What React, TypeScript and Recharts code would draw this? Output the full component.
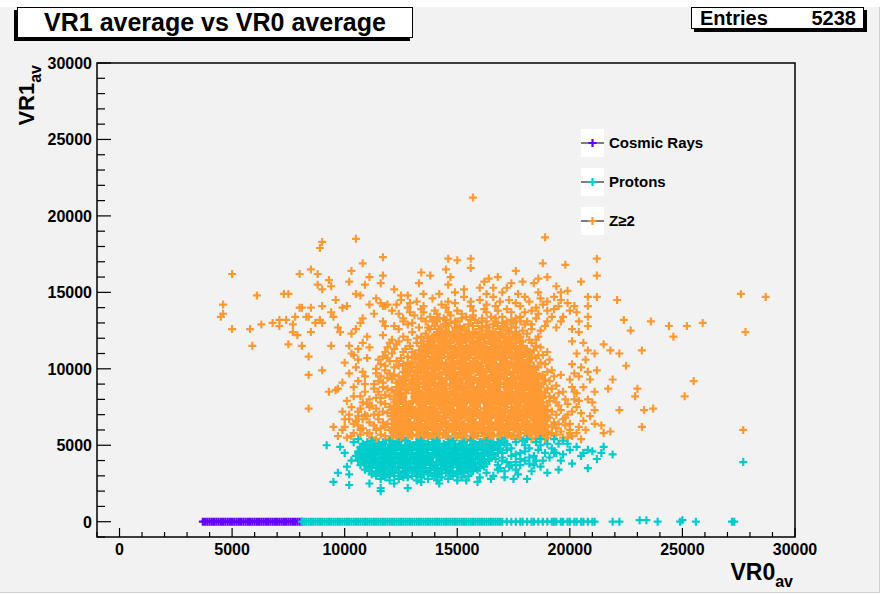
import React from 'react';
import { ScatterChart, Scatter, XAxis, YAxis, ReferenceArea } from 'recharts';

type P = [number, number];

// VR0 average, VR1 average per event, in units of 100 counts

const cosmicBand: P[] = [
  [37,0],[38,0],[39,0],[40,0],[41,0],[42,0],[43,0],[44,0],[45,0],[46,0],[47,0],[48,0],[49,0],[50,0],[51,0],[52,0],
  [53,0],[54,0],[55,0],[56,0],[57,0],[58,0],[59,0],[60,0],[61,0],[62,0],[63,0],[64,0],[65,0],[66,0],[67,0],[68,0],
  [69,0],[70,0],[71,0],[72,0],[73,0],[74,0],[75,0],[76,0],[77,0],[78,0],[79,0],[80,0],[81,0],
];

const protonBand: P[] = [
  [81,0],[82,0],[83,0],[84,0],[85,0],[86,0],[87,0],[88,0],[89,0],[90,0],[91,0],[92,0],[93,0],[94,0],[95,0],[96,0],
  [97,0],[98,0],[99,0],[100,0],[101,0],[102,0],[103,0],[104,0],[105,0],[106,0],[107,0],[108,0],[109,0],[110,0],[111,0],
  [112,0],[113,0],[114,0],[115,0],[116,0],[117,0],[118,0],[119,0],[120,0],[121,0],[122,0],[123,0],[124,0],[125,0],
  [126,0],[127,0],[128,0],[129,0],[130,0],[131,0],[132,0],[133,0],[134,0],[135,0],[136,0],[137,0],[138,0],[139,0],
  [140,0],[141,0],[142,0],[143,0],[144,0],[145,0],[146,0],[147,0],[148,0],[149,0],[150,0],[151,0],[152,0],[153,0],
  [154,0],[155,0],[156,0],[157,0],[158,0],[159,0],[160,0],[161,0],[162,0],[163,0],[164,0],[165,0],[166,0],[167,0],
  [168,0],[169,0],[170,0],[172,0],[174,0],[176,0],[178,0],[179,0],[181,0],[183,0],[184,0],[186,0],[188,0],[190,0],
  [192,0],[193,0],[194,0],[196,0],[197,0],[199,0],[200,0],[202,0],[203,0],[205,0],[206,0],[208,0],[210,0],[211,0],
  [219,0],[222,0],[231,1],[234,1],[239,0],[249,0],[250,1],[256,0],[272,0],[273,0],
];

const protonCloud: P[] = [
  [110,52],[112,53],[115,51],[117,52],[120,53],[122,51],[124,52],[127,53],[129,51],[132,52],[134,53],[136,51],[139,52],
  [141,53],[144,51],[146,52],[148,53],[151,51],[153,52],[156,53],[158,51],[160,52],[163,53],[165,51],[168,52],[170,53],[172,51],
  [107,49],[109,50],[112,48],[114,49],[116,50],[119,48],[121,49],[124,50],[126,48],[128,49],[131,50],[133,48],[136,49],
  [138,50],[140,48],[143,49],[145,50],[148,48],[150,49],[152,50],[155,48],[157,49],[160,50],[162,48],[164,49],[167,50],[169,48],
  [106,46],[108,47],[111,45],[113,46],[115,47],[118,45],[120,46],[123,47],[125,45],[127,46],[130,47],[132,45],[135,46],
  [137,47],[139,45],[142,46],[144,47],[147,45],[149,46],[151,47],[154,45],[156,46],[159,47],[161,45],[163,46],[166,47],[168,45],
  [105,43],[107,44],[110,42],[112,43],[114,44],[117,42],[119,43],[122,44],[124,42],[126,43],[129,44],[131,42],[134,43],
  [136,44],[138,42],[141,43],[143,44],[146,42],[148,43],[150,44],[153,42],[155,43],[158,44],[160,42],[162,43],[165,44],
  [106,40],[108,41],[111,39],[113,40],[115,41],[118,39],[120,40],[123,41],[125,39],[127,40],[130,41],[132,39],[135,40],
  [137,41],[139,39],[142,40],[144,41],[147,39],[149,40],[151,41],[154,39],[156,40],[159,41],[161,39],[164,40],
  [107,37],[109,38],[112,36],[114,37],[116,38],[119,36],[121,37],[124,38],[126,36],[128,37],[131,38],[133,36],[136,37],
  [138,38],[140,36],[143,37],[145,38],[148,36],[150,37],[152,38],[155,36],[157,37],[160,38],[162,36],
  [109,34],[111,35],[114,33],[116,34],[118,35],[121,33],[123,34],[126,35],[128,33],[130,34],[133,35],[135,33],[138,34],
  [140,35],[142,33],[145,34],[147,35],[150,33],[152,34],[154,35],[157,33],[159,34],
  [112,31],[115,32],[117,30],[120,31],[122,32],[125,30],[127,31],[130,32],[132,30],[135,31],[137,32],[140,30],[142,31],
  [145,32],[147,30],[150,31],[153,32],[155,30],
  [116,28],[120,27],[124,28],[128,29],[132,27],[137,28],[141,27],[146,28],[150,27],
  [108,51],[111,50],[113,51],[116,50],[118,51],[121,50],[123,51],[125,50],[128,51],[130,50],[133,51],[135,50],[137,51],
  [140,50],[142,51],[145,50],[147,51],[149,50],[152,51],[154,50],[157,51],[159,50],[161,51],[164,50],[166,51],[169,50],[171,51],
  [107,48],[110,47],[112,48],[115,47],[117,48],[120,47],[122,48],[125,47],[127,48],[129,47],[132,48],[134,47],[137,48],
  [139,47],[141,48],[144,47],[146,48],[149,47],[151,48],[153,47],[156,48],[158,47],[161,48],[163,47],[165,48],[168,47],
  [106,45],[109,44],[111,45],[113,44],[116,45],[118,44],[121,45],[123,44],[125,45],[128,44],[130,45],[133,44],[135,45],
  [137,44],[140,45],[142,44],[145,45],[147,44],[149,45],[152,44],[154,45],[157,44],[159,45],[161,44],[164,45],[166,44],
  [107,42],[109,41],[112,42],[114,41],[117,42],[119,41],[121,42],[124,41],[126,42],[129,41],[131,42],[133,41],[136,42],
  [138,41],[141,42],[143,41],[145,42],[148,41],[150,42],[153,41],[155,42],[157,41],[160,42],[162,41],[165,42],
  [108,39],[110,38],[113,39],[115,38],[117,39],[120,38],[122,39],[125,38],[127,39],[129,38],[132,39],[134,38],[137,39],
  [139,38],[141,39],[144,38],[146,39],[149,38],[151,39],[153,38],[156,39],[158,38],[161,39],[163,38],
  [110,36],[112,35],[115,36],[117,35],[120,36],[122,35],[124,36],[127,35],[129,36],[132,35],[134,36],[136,35],[139,36],
  [141,35],[144,36],[146,35],[148,36],[151,35],[153,36],[156,35],[158,36],[160,35],
  [111,33],[114,32],[116,33],[119,32],[121,33],[124,32],[126,33],[128,32],[131,33],[133,32],[136,33],[138,32],[141,33],
  [143,32],[146,33],[148,32],[151,33],[153,32],[156,33],
  [114,30],[118,29],[122,30],[126,29],[130,30],[134,29],[139,30],[143,29],[148,30],[152,29],
];

const protonFringe: P[] = [
  [172,47],[174,43],[176,39],[178,45],[180,50],[182,42],[184,37],[186,47],[188,40],[190,51],[193,45],[195,34],[199,51],
  [200,47],[208,47],[214,45],[219,44],[194,45],[208,35],[182,38],[181,28],[177,31],[171,33],[168,37],[166,30],[165,28],
  [159,26],[154,27],[142,25],[134,26],[128,22],[122,25],[116,22],[116,20],[111,25],[102,24],[95,26],[97,32],[102,31],
  [101,36],[103,40],[100,45],[98,49],[104,52],[92,50],[106,54],[187,54],[193,54],[170,40],[168,34],[173,36],[179,53],
  [185,52],[205,43],[212,41],[201,38],[277,39],[163,32],[160,29],
  [170,45],[172,50],[174,48],[176,44],[178,41],[180,46],[182,48],[184,43],[185,40],[187,50],[189,45],[191,42],[192,48],
  [195,51],[197,44],[170,42],[172,39],[174,37],[176,34],[178,37],[180,40],[167,41],[169,35],[171,29],[175,28],[183,33],
  [187,36],[190,32],[196,40],[203,49],[206,45],[210,46],[215,49],[171,53],[176,52],[181,54],[197,53],
];

const zCore: P[] = [
  [128,55],[130,56],[133,54],[135,55],[138,56],[140,54],[142,55],[145,56],[147,54],[150,55],[152,56],[154,54],[157,55],
  [159,56],[162,54],[164,55],[166,56],[169,54],[171,55],[174,56],[176,54],[178,55],[181,56],[183,54],
  [127,59],[129,58],[132,60],[134,59],[136,58],[139,60],[141,59],[144,58],[146,60],[148,59],[151,58],[153,60],[156,59],
  [158,58],[160,60],[163,59],[165,58],[168,60],[170,59],[172,58],[175,60],[177,59],[180,58],[182,60],[184,59],
  [128,62],[131,63],[133,61],[135,62],[138,63],[140,61],[143,62],[145,63],[147,61],[150,62],[152,63],[155,61],[157,62],
  [159,63],[162,61],[164,62],[167,63],[169,61],[171,62],[174,63],[176,61],[179,62],[181,63],[184,61],
  [127,66],[129,65],[132,64],[134,66],[137,65],[139,64],[141,66],[144,65],[146,64],[149,66],[151,65],[153,64],[156,66],
  [158,65],[161,64],[163,66],[165,65],[168,64],[170,66],[173,65],[175,64],[177,66],[180,65],[182,64],[185,66],
  [128,69],[130,70],[133,68],[135,69],[138,70],[140,68],[142,69],[145,70],[147,68],[150,69],[152,70],[154,68],[157,69],
  [159,70],[162,68],[164,69],[166,70],[169,68],[171,69],[174,70],[176,68],[178,69],[181,70],[183,68],
  [127,72],[129,73],[132,71],[134,72],[136,73],[139,71],[141,72],[144,73],[146,71],[148,72],[151,73],[153,71],[156,72],
  [158,73],[160,71],[163,72],[165,73],[168,71],[170,72],[172,73],[175,71],[177,72],[180,73],[182,71],[184,72],
  [128,76],[130,75],[133,74],[135,76],[138,75],[140,74],[142,76],[145,75],[147,74],[150,76],[152,75],[154,74],[157,76],
  [159,75],[162,74],[164,76],[166,75],[169,74],[171,76],[174,75],[176,74],[178,76],[181,75],[183,74],
  [130,79],[132,80],[134,78],[137,79],[139,80],[142,78],[144,79],[146,80],[149,78],[151,79],[154,80],[156,78],[158,79],
  [161,80],[163,78],[166,79],[168,80],[170,78],[173,79],[175,80],[178,78],[180,79],[182,80],
  [131,82],[133,83],[136,81],[138,82],[141,83],[143,81],[145,82],[148,83],[150,81],[153,82],[155,83],[157,81],[160,82],
  [162,83],[165,81],[167,82],[169,83],[172,81],[174,82],[177,83],[179,81],[181,82],[183,83],
  [130,86],[132,85],[135,84],[137,86],[140,85],[142,84],[144,86],[147,85],[149,84],[152,86],[154,85],[156,84],[159,86],
  [161,85],[164,84],[166,86],[168,85],[171,84],[173,86],[176,85],[178,84],[180,86],[183,85],
  [131,89],[133,90],[136,88],[138,89],[140,90],[143,88],[145,89],[148,90],[150,88],[152,89],[155,90],[157,88],[160,89],
  [162,90],[164,88],[167,89],[169,90],[172,88],[174,89],[176,90],[179,88],[181,89],
  [130,92],[132,93],[135,91],[137,92],[139,93],[142,91],[144,92],[147,93],[149,91],[151,92],[154,93],[156,91],[159,92],
  [161,93],[163,91],[166,92],[168,93],[171,91],[173,92],[175,93],[178,91],[180,92],[182,93],
  [131,96],[134,95],[136,94],[138,96],[141,95],[143,94],[146,96],[148,95],[150,94],[153,96],[155,95],[158,94],[160,96],
  [162,95],[165,94],[167,96],[170,95],[172,94],[174,96],[177,95],[179,94],[181,96],
  [133,99],[135,100],[137,98],[140,99],[142,100],[145,98],[147,99],[149,100],[152,98],[154,99],[157,100],[159,98],
  [161,99],[164,100],[166,98],[169,99],[171,100],[173,98],[176,99],[178,100],[180,98],
  [134,102],[136,103],[139,101],[141,102],[143,103],[146,101],[148,102],[151,103],[153,101],[155,102],[158,103],
  [160,101],[163,102],[165,103],[167,101],[170,102],[172,103],[175,101],[177,102],[179,103],
  [133,106],[135,105],[138,104],[140,106],[142,105],[145,104],[147,106],[150,105],[152,104],[154,106],[157,105],
  [159,104],[162,106],[164,105],[166,104],[169,106],[171,105],[174,104],[176,106],[178,105],[181,104],
  [134,109],[137,110],[139,108],[141,109],[144,110],[146,108],[149,109],[151,110],[153,108],[156,109],[158,110],
  [161,108],[163,109],[165,110],[168,108],[170,109],[173,110],[175,108],[177,109],[180,110],
  [136,112],[138,113],[141,111],[143,112],[145,113],[148,111],[150,112],[153,113],[155,111],[157,112],[160,113],
  [162,111],[165,112],[167,113],[169,111],[172,112],[174,113],[177,111],
  [137,116],[139,115],[142,114],[144,116],[147,115],[149,114],[151,116],[154,115],[156,114],[159,116],[161,115],
  [163,114],[166,116],[168,115],[171,114],[173,116],[176,115],[178,114],
  [138,119],[141,120],[143,118],[145,119],[148,120],[150,118],[153,119],[155,120],[157,118],[160,119],[162,120],
  [165,118],[167,119],[169,120],[172,118],[174,119],[176,120],
  [140,122],[143,123],[145,121],[148,122],[150,123],[153,121],[155,122],[158,123],[160,121],[163,122],[165,123],
  [168,121],[170,122],[173,123],[175,121],
  [142,126],[145,125],[148,124],[151,126],[154,125],[157,124],[160,126],[163,125],[166,124],[169,126],[172,125],
  [144,129],[147,130],[151,128],[155,129],[159,130],[163,128],[166,129],[170,130],
];

const zCoreFill: P[] = [
  [129,57],[132,57],[134,58],[137,56],[139,57],[141,58],[144,57],[146,56],[149,57],[151,58],[153,57],[156,56],[158,57],
  [161,58],[163,57],[165,56],[168,57],[170,58],[173,57],[175,56],[177,57],[180,58],[182,57],
  [128,61],[130,60],[133,61],[135,60],[137,61],[140,60],[142,61],[145,60],[147,61],[149,60],[152,61],[154,60],[157,61],
  [159,60],[161,61],[164,60],[166,61],[169,60],[171,61],[173,60],[176,61],[178,60],[181,61],[183,60],
  [129,64],[131,63],[134,64],[136,63],[139,64],[141,63],[143,64],[146,63],[148,64],[150,63],[153,64],[155,63],[158,64],
  [160,63],[162,64],[165,63],[167,64],[170,63],[172,64],[174,63],[177,64],[179,63],[182,64],[184,63],
  [128,67],[131,68],[133,67],[136,67],[138,68],[140,67],[143,67],[145,68],[148,67],[150,67],[152,68],[155,67],[157,67],
  [160,68],[162,67],[164,67],[167,68],[169,67],[172,67],[174,68],[176,67],[179,67],[181,68],[184,67],
  [129,71],[131,70],[134,71],[137,70],[139,71],[141,70],[144,71],[146,70],[149,71],[151,70],[153,71],[156,70],[158,71],
  [161,70],[163,71],[165,70],[168,71],[170,70],[173,71],[175,70],[177,71],[180,70],[182,71],[185,70],
  [128,74],[131,73],[133,74],[135,73],[138,74],[140,73],[143,74],[145,73],[147,74],[150,73],[152,74],[155,73],[157,74],
  [159,73],[162,74],[164,73],[167,74],[169,73],[171,74],[174,73],[176,74],[179,73],[181,74],[183,73],
  [129,77],[132,78],[134,77],[136,78],[139,77],[141,78],[144,77],[146,78],[148,77],[151,78],[153,77],[156,78],[158,77],
  [160,78],[163,77],[165,78],[168,77],[170,78],[172,77],[175,78],[177,77],[180,78],[182,77],[184,78],
  [131,81],[133,80],[135,81],[138,80],[140,81],[143,80],[145,81],[147,80],[150,81],[152,80],[155,81],[157,80],[159,81],
  [162,80],[164,81],[167,80],[169,81],[171,80],[174,81],[176,80],[179,81],[181,80],[183,81],
  [130,84],[132,83],[134,84],[137,83],[139,84],[142,83],[144,84],[146,83],[149,84],[151,83],[154,84],[156,83],[158,84],
  [161,83],[163,84],[166,83],[168,84],[170,83],[173,84],[175,83],[178,84],[180,83],[182,84],
  [131,87],[133,88],[136,87],[138,87],[141,88],[143,87],[145,87],[148,88],[150,87],[153,87],[155,88],[157,87],[160,87],
  [162,88],[165,87],[167,87],[169,88],[172,87],[174,87],[177,88],[179,87],[182,87],
  [130,91],[132,90],[135,91],[137,90],[139,91],[142,90],[144,91],[147,90],[149,91],[151,90],[154,91],[156,90],[159,91],
  [161,90],[163,91],[166,90],[168,91],[171,90],[173,91],[175,90],[178,91],[180,90],[182,91],
  [131,94],[133,93],[136,94],[138,93],[140,94],[143,93],[145,94],[148,93],[150,94],[152,93],[155,94],[157,93],[160,94],
  [162,93],[164,94],[167,93],[169,94],[172,93],[174,94],[176,93],[179,94],[181,93],
  [132,97],[135,98],[137,97],[139,98],[142,97],[144,98],[147,97],[149,98],[151,97],[154,98],[156,97],[159,98],[161,97],
  [163,98],[166,97],[168,98],[171,97],[173,98],[175,97],[178,98],[180,97],[182,98],
  [132,101],[134,100],[136,101],[139,100],[141,101],[144,100],[146,101],[148,100],[151,101],[153,100],[156,101],
  [158,100],[160,101],[163,100],[165,101],[168,100],[170,101],[172,100],[175,101],[177,100],[179,101],[181,100],
  [133,104],[135,103],[137,104],[140,103],[142,104],[145,103],[147,104],[149,103],[152,104],[154,103],[157,104],
  [159,103],[161,104],[164,103],[166,104],[169,103],[171,104],[173,103],[176,104],[178,103],[180,104],
  [134,107],[136,108],[139,107],[141,108],[143,107],[146,108],[148,107],[151,108],[153,107],[155,108],[158,107],
  [160,108],[163,107],[165,108],[167,107],[170,108],[172,107],[174,108],[177,107],[179,108],
  [135,111],[137,110],[140,111],[142,110],[144,111],[147,110],[149,111],[152,110],[154,111],[156,110],[159,111],
  [161,110],[164,111],[166,110],[168,111],[171,110],[173,111],[176,110],[178,111],
  [136,114],[139,113],[141,114],[144,113],[146,114],[148,113],[151,114],[153,113],[155,114],[158,113],[160,114],
  [163,113],[165,114],[167,113],[170,114],[172,113],[175,114],[177,113],
  [138,117],[140,118],[143,117],[145,118],[147,117],[150,118],[152,117],[154,118],[157,117],[159,118],[162,117],
  [164,118],[166,117],[169,118],[171,117],[173,118],[176,117],
  [139,121],[142,121],[144,120],[147,121],[149,121],[151,120],[154,121],[156,121],[159,120],[161,121],[164,121],
  [166,120],[168,121],[171,121],[173,120],[176,122],
  [141,124],[144,123],[146,124],[149,124],[152,123],[155,124],[158,124],[161,123],[164,124],[167,124],[170,123],[173,124],
  [143,127],[146,128],[149,127],[153,127],[157,128],[161,127],[164,127],[168,128],[171,127],
];

const zFlank: P[] = [
  [121,55],[123,56],[125,54],[122,58],[124,59],[126,57],[121,61],[123,62],[125,60],[122,64],[124,65],[126,63],[121,67],
  [123,68],[125,66],[122,70],[124,71],[126,69],[121,73],[123,74],[125,72],[122,76],[124,77],[126,75],[123,79],[125,80],
  [127,78],[122,82],[124,83],[126,81],[123,85],[125,86],[127,84],[124,88],[126,89],[128,87],[125,91],[127,92],[129,90],
  [126,94],[128,95],[130,93],[127,97],[129,98],[131,96],[128,100],[130,101],[132,99],[129,103],[131,104],[130,107],
  [132,108],[131,110],[133,112],[134,115],[135,118],
  [185,55],[187,56],[189,54],[186,58],[188,59],[190,57],[185,61],[187,62],[189,60],[186,64],[188,65],[190,63],[185,67],
  [187,68],[189,66],[186,70],[188,71],[190,69],[185,73],[187,74],[189,72],[184,76],[186,77],[188,75],[184,79],[186,80],
  [188,78],[184,82],[186,83],[188,81],[183,86],[185,87],[187,85],[183,89],[185,90],[187,88],[182,92],[184,93],[186,91],
  [182,95],[184,96],[186,94],[181,98],[183,99],[185,97],[180,101],[182,102],[184,100],[179,104],[181,105],[183,107],
  [178,108],[180,110],[182,111],[177,113],[179,114],[176,117],[178,118],
  [136,123],[138,126],[140,128],[137,120],[178,121],[176,124],[179,118],[174,127],[175,130],[141,131],[145,132],
  [150,131],[156,132],[161,131],[167,131],[172,129],
];

const zRing: P[] = [
  [112,55],[116,57],[120,54],[124,56],[114,60],[118,62],[122,59],[125,61],[111,65],[115,67],[119,64],[123,66],[113,70],
  [117,72],[121,69],[125,71],[112,76],[116,78],[120,75],[124,77],[114,81],[118,83],[122,80],[126,82],[113,87],[117,88],
  [121,86],[125,89],[115,92],[119,94],[123,91],[127,93],[114,97],[118,99],[122,96],[126,98],[116,103],[120,105],[124,102],
  [128,104],[117,108],[121,110],[125,107],[130,111],[119,114],[123,116],[127,113],[132,117],[121,119],[126,121],[130,124],
  [134,121],[137,127],[140,132],
  [114,54],[118,56],[122,57],[126,58],[111,58],[116,61],[120,60],[124,63],[113,63],[117,65],[121,67],[125,65],[110,69],
  [115,70],[119,71],[123,73],[126,75],[114,74],[118,77],[122,78],[126,79],[111,80],[116,81],[120,82],[124,84],[115,85],
  [119,87],[123,88],[127,86],[113,90],[117,91],[121,93],[125,92],[116,95],[120,97],[124,95],[127,100],[114,100],[118,102],
  [122,101],[126,103],[115,106],[119,107],[123,105],[128,108],[118,111],[122,113],[126,111],[129,115],[120,117],[124,118],
  [128,119],[132,120],[107,60],[108,67],[106,72],[109,85],[108,98],[110,107],[111,114],
  [186,56],[190,55],[194,57],[188,60],[192,62],[196,59],[187,65],[191,68],[195,64],[186,71],[190,73],[194,70],[187,77],
  [191,79],[195,76],[185,82],[189,84],[193,81],[184,88],[188,90],[192,87],[183,93],[187,95],[191,92],[183,99],[186,101],
  [190,98],[182,104],[185,107],[189,103],[181,110],[184,112],[188,109],[179,115],[183,117],[187,114],[177,121],[181,123],
  [185,119],[176,127],[180,129],[198,68],[197,85],[199,77],[196,96],
  [185,54],[188,57],[192,58],[197,55],[186,61],[190,59],[194,61],[198,63],[185,68],[189,66],[193,65],[197,67],[188,70],
  [192,72],[196,73],[186,75],[190,76],[194,78],[198,80],[187,80],[191,82],[195,84],[186,86],[190,87],[194,89],[185,91],
  [189,93],[193,95],[184,97],[188,96],[192,99],[184,102],[187,104],[191,106],[183,108],[186,109],[190,111],[181,113],
  [185,115],[182,119],[186,121],[179,125],[183,126],[178,131],[201,72],[201,88],[200,60],[202,80],
  [124,126],[128,129],[133,127],[136,131],[126,133],[131,135],[138,134],[142,133],[147,135],[152,133],[157,135],[161,133],
  [165,134],[170,134],[174,132],[178,134],[183,129],[187,125],[190,131],[194,127],[186,136],[121,138],[128,140],[134,139],
  [140,138],[145,140],[150,138],[156,141],[162,139],[167,141],[172,139],[178,141],[183,138],[188,142],[193,139],[197,134],
  [125,145],[132,144],[139,146],[146,144],[153,147],[160,145],[166,147],[173,145],[180,147],[187,146],[193,147],[199,143],
  [122,128],[126,131],[130,130],[134,133],[139,131],[144,133],[149,131],[154,134],[158,132],[163,131],[167,133],[172,131],
  [176,133],[181,131],[185,133],[189,128],[192,134],[196,131],[124,136],[129,137],[135,137],[141,136],[146,137],[152,136],
  [157,138],[163,137],[168,138],[174,137],[180,137],[185,140],[190,138],[195,141],[200,138],[118,141],[123,142],[129,143],
  [135,141],[143,142],[149,143],[156,144],[163,142],[169,144],[176,143],[182,144],[190,144],[196,145],[202,141],[128,148],
  [135,149],[142,149],[149,150],[163,149],[170,150],[177,149],[186,150],[196,150],[117,131],[114,146],[204,131],[201,126],
];

const zSparse: P[] = [
  [157,212],[189,186],[105,185],[90,183],[89,179],[117,173],[50,162],[108,169],[146,172],[150,171],[156,172],[156,166],
  [188,169],[198,168],[212,172],[80,162],[85,165],[88,162],[93,158],[103,164],[111,160],[117,161],[102,157],[109,155],
  [116,156],[88,155],[90,152],[94,154],[61,148],[73,149],[75,149],[46,142],[46,136],[45,134],[50,126],[58,126],[59,115],
  [63,129],[68,130],[71,132],[71,128],[74,132],[77,129],[78,134],[77,124],[79,122],[80,140],[81,140],[85,140],[90,141],
  [83,134],[84,134],[85,124],[87,130],[89,132],[90,130],[94,137],[95,134],[96,145],[97,127],[98,124],[99,140],[101,141],
  [94,115],[84,108],[81,115],[75,116],[84,96],[90,99],[93,85],[96,86],[97,87],[99,91],[84,74],[100,67],[102,115],
  [103,110],[104,109],[106,106],[104,82],[107,82],[106,92],[109,95],[109,90],[111,75],[103,123],[105,126],[107,130],
  [108,133],[105,149],[107,148],[111,142],[113,136],[116,143],[117,141],[119,142],[118,128],[117,122],[122,152],[125,148],
  [133,156],[134,163],[138,161],[145,165],[147,160],[146,155],[153,152],[160,153],[162,157],[164,159],[168,160],[166,153],
  [172,153],[176,164],[174,156],[179,157],[184,156],[186,159],[190,160],[194,154],[199,151],[205,157],[212,161],[208,147],
  [212,147],[208,141],[203,137],[208,134],[208,128],[208,112],[211,110],[208,98],[212,99],[209,93],[211,85],[208,80],
  [211,73],[203,84],[205,71],[200,64],[203,58],[205,101],[202,97],[201,118],[204,124],[215,116],[218,112],[222,110],
  [224,132],[227,125],[225,102],[230,87],[229,82],[219,93],[217,87],[222,73],[218,59],[214,63],[232,62],[233,73],
  [236,131],[244,128],[246,121],[252,128],[259,130],[255,92],[251,82],[237,74],[221,145],[232,112],[276,149],[287,147],
  [278,124],[277,60],[101,55],[104,58],[99,60],[106,63],[97,56],[95,62],[102,70],[107,74],[110,58],[215,58],[199,55],
  [101,79],[104,88],[102,97],[105,101],[100,104],[108,117],[110,121],[106,113],[109,70],[105,66],[108,78],
  [103,56],[107,57],[100,62],[104,64],[108,61],[102,67],[106,69],[103,75],[110,77],[99,72],
  [201,56],[204,62],[206,66],[203,75],[206,88],[204,95],[207,106],[203,110],[206,117],[201,103],[210,78],[211,64],
  [200,58],[199,70],[202,85],[200,93],[204,79],[207,60],[205,54],[209,69],
];

const axisTicks = Array.from({ length: 32 }, (_, i) => -1000 + i * 1000);
const DOMAIN: [number, number] = [-1000, 30000];

const FONT = "'Liberation Sans', Arial, Helvetica, sans-serif";
const BG = '#f2f2f2';
const ARM = 4;
const STROKE = 2.2;

const toPoints = (arr: P[]) => arr.map(([x, y]) => ({ x: x * 100, y: y * 100 }));

const series = [
  { name: 'Cosmic Rays', color: '#6600ff', data: toPoints(cosmicBand) },
  { name: 'Protons', color: '#00cccc', data: toPoints([...protonBand, ...protonCloud, ...protonFringe]) },
  { name: 'Z≥2', color: '#ff9933', data: toPoints([...zCore, ...zCoreFill, ...zFlank, ...zRing, ...zSparse]) },
];
// protons are painted last so their cloud sits over the lower edge of Z>=2
const drawOrder = [series[0], series[2], series[1]];

const crossShape = (color: string) => (p: any) =>
  p.cx == null ? <g /> : (
    <path
      d={`M${p.cx - ARM} ${p.cy}h${2 * ARM}M${p.cx} ${p.cy - ARM}v${2 * ARM}`}
      stroke={color}
      strokeWidth={STROKE}
      fill="none"
    />
  );

function XTick(props: any) {
  const { x, y, payload } = props;
  const v = payload.value;
  const major = v >= 0 && v % 5000 === 0;
  return (
    <g>
      <line x1={x} x2={x} y1={y} y2={y - (major ? 9 : 5)} stroke="#000" strokeWidth={1.2} />
      {major && (
        <text x={x} y={y + 18} textAnchor="middle" fontFamily={FONT} fontWeight="bold" fontSize={16} fill="#000">
          {v}
        </text>
      )}
    </g>
  );
}

function YTick(props: any) {
  const { x, y, payload } = props;
  const v = payload.value;
  const major = v >= 0 && v % 5000 === 0;
  return (
    <g>
      <line x1={x} x2={x + (major ? 14 : 8)} y1={y} y2={y} stroke="#000" strokeWidth={1.2} />
      {major && (
        <text x={x - 5} y={y + 6} textAnchor="end" fontFamily={FONT} fontWeight="bold" fontSize={16} fill="#000">
          {v}
        </text>
      )}
    </g>
  );
}

const legendRows = [143, 182, 221];

export default function App() {
  return (
    <div style={{ position: 'relative', width: 884, height: 595, background: '#fff', overflow: 'hidden' }}>
      <style>{'body{margin:0}'}</style>
      <div
        style={{
          position: 'absolute', left: 0, top: 7, width: 879, height: 585, background: BG,
          borderRight: '1px solid #cfcfcf', borderBottom: '1px solid #cfcfcf',
        }}
      />
      <div style={{ position: 'absolute', left: 0, top: 0 }}>
        <ScatterChart width={884} height={595} margin={{ top: 63, right: 89, bottom: 28, left: 37 }}>
          <XAxis
            type="number"
            dataKey="x"
            domain={DOMAIN}
            ticks={axisTicks}
            interval={0}
            allowDataOverflow
            axisLine={false}
            tickLine={false}
            tickSize={0}
            tickMargin={0}
            height={30}
            tick={<XTick />}
          />
          <YAxis
            type="number"
            dataKey="y"
            domain={DOMAIN}
            ticks={axisTicks}
            interval={0}
            allowDataOverflow
            axisLine={false}
            tickLine={false}
            tickSize={0}
            tickMargin={0}
            width={60}
            tick={<YTick />}
          />
          {drawOrder.map((s) => (
            <Scatter
              key={s.name}
              name={s.name}
              data={s.data}
              fill={s.color}
              shape={crossShape(s.color)}
              isAnimationActive={false}
            />
          ))}
          <ReferenceArea
            x1={-1000}
            x2={30000}
            y1={-1000}
            y2={30000}
            fill="none"
            stroke="#000"
            strokeWidth={1.5}
            ifOverflow="visible"
          />
        </ScatterChart>
      </div>

      <svg width={884} height={595} style={{ position: 'absolute', left: 0, top: 0, pointerEvents: 'none' }}>
        {/* axis titles */}
        <text x={793} y={580} textAnchor="end" fontFamily={FONT} fontWeight="bold" fontSize={23} fill="#000">
          VR0<tspan fontSize={16} dy={7}>av</tspan>
        </text>
        <text
          transform="translate(34,65) rotate(-90)"
          textAnchor="end"
          fontFamily={FONT}
          fontWeight="bold"
          fontSize={22}
          fill="#000"
        >
          VR1<tspan fontSize={16} dy={7}>av</tspan>
        </text>

        {/* legend */}
        {series.map((s, i) => {
          const cy = legendRows[i];
          return (
            <g key={s.name}>
              <rect x={581} y={cy - 14} width={23} height={28} fill="#fff" />
              <line x1={581} x2={604} y1={cy} y2={cy} stroke="#555" strokeWidth={1.5} />
              <path d={`M${588.5} ${cy}h8M${592.5} ${cy - 4}v8`} stroke={s.color} strokeWidth={STROKE} fill="none" />
              <text x={609} y={cy + 5} fontFamily={FONT} fontWeight="bold" fontSize={15} fill="#000">
                {s.name}
              </text>
            </g>
          );
        })}
      </svg>

      {/* title pave, shadow to the bottom-left */}
      <div style={{ position: 'absolute', left: 14, top: 10, width: 396, height: 31, background: '#000' }} />
      <div
        style={{
          position: 'absolute', left: 17, top: 7, width: 396, height: 31, boxSizing: 'border-box',
          background: '#fff', border: '1px solid #000', display: 'flex', alignItems: 'center',
          justifyContent: 'center', font: `bold 25px ${FONT}`, color: '#000',
        }}
      >
        VR1 average vs VR0 average
      </div>

      {/* stats pave, shadow to the bottom-right */}
      <div style={{ position: 'absolute', left: 694, top: 10, width: 173, height: 22, background: '#000' }} />
      <div
        style={{
          position: 'absolute', left: 691, top: 7, width: 173, height: 22, boxSizing: 'border-box',
          background: '#fff', border: '1px solid #000', display: 'flex', alignItems: 'center',
          justifyContent: 'space-between', padding: '0 7px 0 8px', font: `bold 20px ${FONT}`, color: '#000',
        }}
      >
        <span>Entries</span>
        <span>5238</span>
      </div>
    </div>
  );
}
